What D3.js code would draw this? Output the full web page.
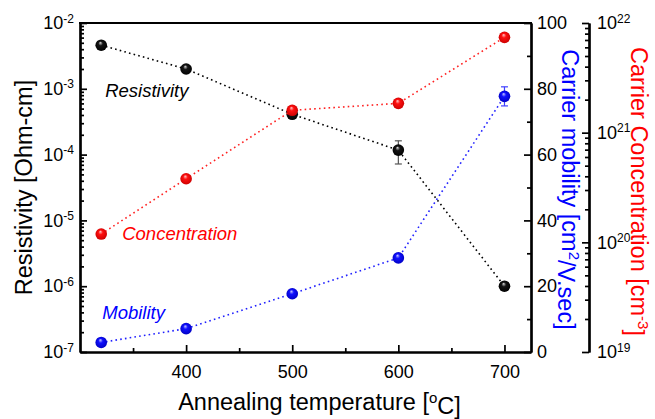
<!doctype html>
<html lang="en">
<head>
  <meta charset="utf-8">
  <title>Resistivity / Concentration / Mobility</title>
  <script src="https://cdn.jsdelivr.net/npm/d3@7/dist/d3.min.js"></script>
  <style>
    body{margin:0;background:#fff}
    svg{display:block;font-family:"Liberation Sans",Arial,sans-serif}
    .axis path,.axis line{stroke:#000}
    .axis path{stroke-width:2.2}
    .axis line{stroke-width:1.7}
    .axis text{font-size:18px;fill:#000;font-family:"Liberation Sans",Arial,sans-serif}
  </style>
</head>
<body>
  <div id="container"></div>
<script>
// annealing temperature (°C)
var temps = [320, 400, 500, 600, 700];
// resistivity (Ohm-cm), left log axis
var resistivity = [4.6e-3, 2.0e-3, 4.1e-4, 1.17e-4, 1.0e-6];
var resErrLo = [0, 0, 0, 7.2e-5, 0];
var resErrHi = [0, 0, 0, 1.62e-4, 0];
// carrier concentration (cm^-3), outer right log axis
var concentration = [1.19e20, 3.8e20, 1.6e21, 1.85e21, 7.4e21];
// carrier mobility (cm2/V.sec), right linear axis
var mobility = [2.9, 7.1, 17.7, 28.6, 77.7];
var mobErr = [0, 0, 0, 0, 2.9];

var xTicks = [400, 500, 600, 700], xMinor = [350, 450, 550, 650];
var resTicks = [1e-7, 1e-6, 1e-5, 1e-4, 1e-3, 1e-2];
var mobTicks = [0, 20, 40, 60, 80, 100], mobMinor = [10, 30, 50, 70, 90];
var concTicks = [1e19, 1e20, 1e21, 1e22];

var W = 655, H = 419,
    L = 80, R = 531, T = 23, B = 352, R2 = 589;

var svg = d3.select("#container").append("svg").attr("width", W).attr("height", H);
var defs = svg.append("defs");

function sphere(id, c0, c1, c2) {
  var g = defs.append("radialGradient").attr("id", id)
    .attr("cx", "50%").attr("cy", "50%").attr("r", "55%").attr("fx", "42%").attr("fy", "28%");
  g.append("stop").attr("offset", "0%").attr("stop-color", c0);
  g.append("stop").attr("offset", "35%").attr("stop-color", c1);
  g.append("stop").attr("offset", "100%").attr("stop-color", c2);
}
sphere("gBlack", "#d8d8d8", "#151515", "#000");
sphere("gRed", "#ffc8c8", "#ff1010", "#c80000");
sphere("gBlue", "#c8c8ff", "#1010ff", "#0000c0");

var x = d3.scaleLinear().domain([300, 725]).range([L, R]);
var yRes = d3.scaleLog().domain([1e-7, 1e-2]).range([B, T]);
var yMob = d3.scaleLinear().domain([0, 100]).range([B, T]);
var yConc = d3.scaleLog().domain([1e19, 1e22]).range([B, T]);

function sup(sel) {
  sel.each(function (d) {
    var t = d3.select(this).text(null);
    t.append("tspan").text("10");
    t.append("tspan").attr("dy", "-0.55em").style("font-size", "12px").text(Math.round(Math.log10(d)));
  });
}

// minor ticks
svg.append("g").attr("class", "axis").attr("transform", "translate(" + L + ",0)")
  .call(d3.axisLeft(yRes).tickValues(yRes.ticks().filter(function (v) { return resTicks.indexOf(v) < 0; }))
    .tickSizeInner(-4).tickSizeOuter(0).tickFormat(""));
svg.append("g").attr("class", "axis").attr("transform", "translate(0," + B + ")")
  .call(d3.axisBottom(x).tickValues(xMinor).tickSizeInner(-4).tickSizeOuter(0).tickFormat(""));
svg.append("g").attr("class", "axis").attr("transform", "translate(" + R + ",0)")
  .call(d3.axisRight(yMob).tickValues(mobMinor).tickSizeInner(-4).tickSizeOuter(0).tickFormat(""));
svg.append("g").attr("class", "axis").attr("transform", "translate(" + R2 + ",0)")
  .call(d3.axisRight(yConc).tickValues(yConc.ticks().filter(function (v) { return concTicks.indexOf(v) < 0; }))
    .tickSizeInner(-4).tickSizeOuter(0).tickFormat(""));

// major ticks + labels
svg.append("g").attr("class", "axis").attr("transform", "translate(" + L + ",0)")
  .call(d3.axisLeft(yRes).tickValues(resTicks).tickSizeInner(-7).tickSizeOuter(0).tickPadding(6))
  .selectAll("text").call(sup);
svg.append("g").attr("class", "axis").attr("transform", "translate(0," + B + ")")
  .call(d3.axisBottom(x).tickValues(xTicks).tickSizeInner(-7).tickSizeOuter(0).tickPadding(13).tickFormat(d3.format("d")));
svg.append("g").attr("class", "axis").attr("transform", "translate(" + R + ",0)")
  .call(d3.axisRight(yMob).tickValues(mobTicks).tickSizeInner(-7).tickSizeOuter(0).tickPadding(6));
svg.append("g").attr("class", "axis").attr("transform", "translate(" + R2 + ",0)")
  .call(d3.axisRight(yConc).tickValues(concTicks).tickSizeInner(-7).tickSizeOuter(0).tickPadding(8))
  .selectAll("text").call(sup);

// top border
svg.append("line").attr("x1", L - 1).attr("x2", R + 1).attr("y1", T).attr("y2", T)
  .attr("stroke", "#000").attr("stroke-width", 2.2);

// axis titles
svg.append("text").attr("transform", "translate(32," + ((T + B) / 2) + ") rotate(-90)")
  .attr("text-anchor", "middle").style("font-size", "23.5px").text("Resistivity [Ohm-cm]");
var tx = svg.append("text").attr("x", (L + R) / 2 + 14).attr("y", 410)
  .attr("text-anchor", "middle").style("font-size", "23.5px");
tx.append("tspan").text("Annealing temperature [");
tx.append("tspan").attr("dy", "-0.45em").style("font-size", "15px").text("o");
tx.append("tspan").attr("dy", "0.45em").text("C]");

var tm = svg.append("text").attr("transform", "translate(562," + ((T + B) / 2 + 2) + ") rotate(90)")
  .attr("text-anchor", "middle").attr("fill", "#0000ff").style("font-size", "23.5px");
tm.append("tspan").text("Carrier mobility [cm");
tm.append("tspan").attr("dy", "-0.45em").style("font-size", "15px").text("2");
tm.append("tspan").attr("dy", "0.45em").text("/V.sec]");

var tc = svg.append("text").attr("transform", "translate(631," + ((T + B) / 2 + 4) + ") rotate(90)")
  .attr("text-anchor", "middle").attr("fill", "#ff0000").style("font-size", "23.5px");
tc.append("tspan").text("Carrier Concentration [cm");
tc.append("tspan").attr("dy", "-0.45em").style("font-size", "15px").text("-3");
tc.append("tspan").attr("dy", "0.45em").text("]");

// series
function series(vals, y, stroke, grad, errLo, errHi, errColor) {
  var pts = temps.map(function (t, i) { return [x(t), y(vals[i])]; });
  svg.append("path").attr("d", d3.line()(pts)).attr("fill", "none")
    .attr("stroke", stroke).attr("stroke-width", 1.6).attr("stroke-dasharray", "1.6,3.2");
  var g = svg.append("g");
  temps.forEach(function (t, i) {
    if (errLo && errLo[i] !== errHi[i]) {
      var cx = x(t), y1 = y(errLo[i]), y2 = y(errHi[i]);
      g.append("line").attr("x1", cx).attr("x2", cx).attr("y1", y1).attr("y2", y2).attr("stroke", errColor).attr("stroke-width", 1.2);
      [y1, y2].forEach(function (yy) {
        g.append("line").attr("x1", cx - 3.5).attr("x2", cx + 3.5).attr("y1", yy).attr("y2", yy).attr("stroke", errColor).attr("stroke-width", 1.2);
      });
    }
  });
  g.selectAll("circle").data(pts).enter().append("circle")
    .attr("cx", function (d) { return d[0]; }).attr("cy", function (d) { return d[1]; })
    .attr("r", 5.8).attr("fill", "url(#" + grad + ")");
}
series(resistivity, yRes, "#000", "gBlack", resErrLo, resErrHi, "#555");
series(concentration, yConc, "#ff2020", "gRed");
series(mobility, yMob, "#2020ff", "gBlue",
  mobility.map(function (v, i) { return v - mobErr[i]; }),
  mobility.map(function (v, i) { return v + mobErr[i]; }), "#4040ff");

// in-plot labels
svg.append("text").attr("x", x(temps[0]) + 4).attr("y", 97).attr("fill", "#000")
  .style("font-size", "18.5px").style("font-style", "italic").text("Resistivity");
svg.append("text").attr("x", x(temps[0]) + 21).attr("y", 240).attr("fill", "#ff0000")
  .style("font-size", "18.5px").style("font-style", "italic").text("Concentration");
svg.append("text").attr("x", x(temps[0]) + 1).attr("y", 319).attr("fill", "#0000ff")
  .style("font-size", "18.5px").style("font-style", "italic").text("Mobility");
</script>
</body>
</html>
